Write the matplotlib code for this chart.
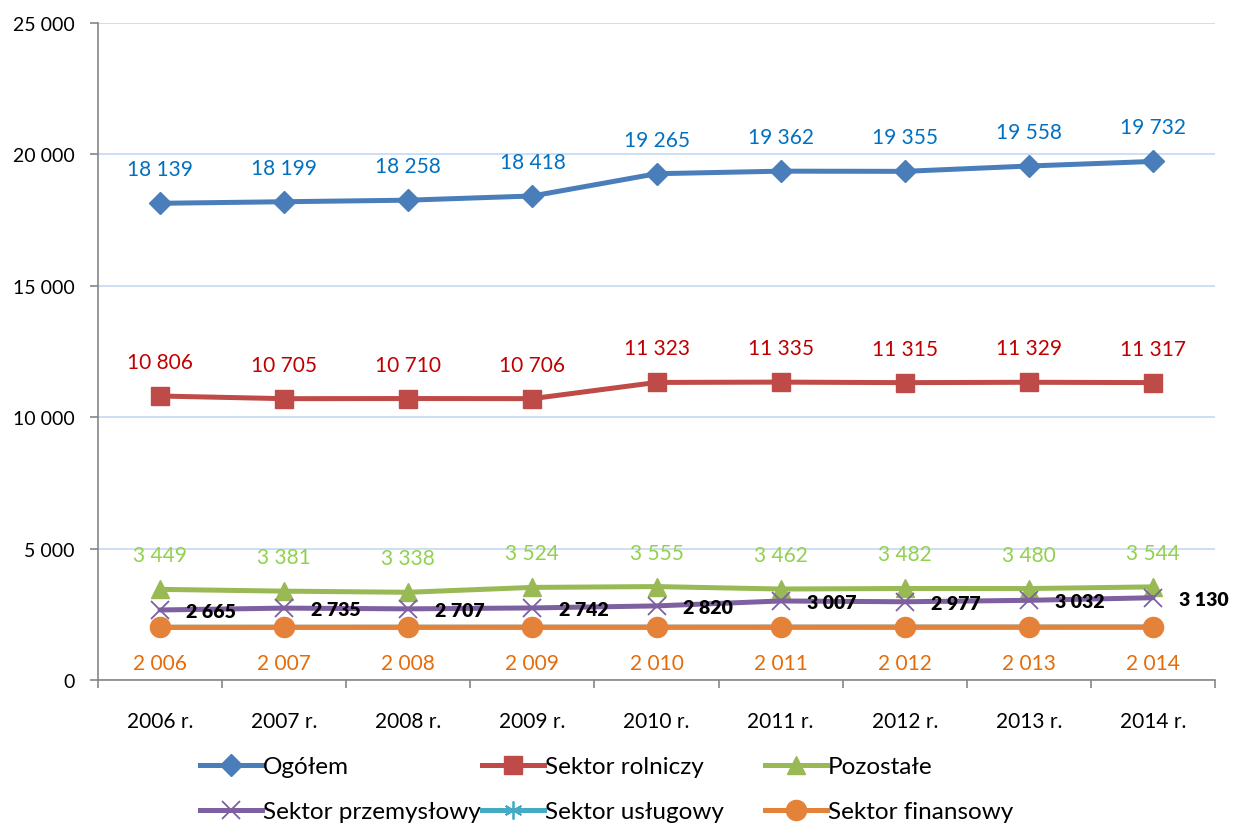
import matplotlib
matplotlib.use("Agg")
import matplotlib.pyplot as plt
from matplotlib.lines import Line2D
from matplotlib.ticker import MultipleLocator, FixedLocator

plt.rcParams['font.family'] = ['Lato', 'DejaVu Sans']

categories = ["2006 r.", "2007 r.", "2008 r.", "2009 r.", "2010 r.", "2011 r.", "2012 r.", "2013 r.", "2014 r."]
ogolem = [18139, 18199, 18258, 18418, 19265, 19362, 19355, 19558, 19732]
rolniczy = [10806, 10705, 10710, 10706, 11323, 11335, 11315, 11329, 11317]
pozostale = [3449, 3381, 3338, 3524, 3555, 3462, 3482, 3480, 3544]
przemyslowy = [2665, 2735, 2707, 2742, 2820, 3007, 2977, 3032, 3130]
uslugowy = [2006, 2007, 2008, 2009, 2010, 2011, 2012, 2013, 2014]
finansowy = [2006, 2007, 2008, 2009, 2010, 2011, 2012, 2013, 2014]


def fmt(v):
    return f"{v:,}".replace(",", " ")


fig = plt.figure(figsize=(12.34, 8.28), dpi=100)
ax = fig.add_axes([98 / 1234, 1 - 681 / 828, (1215 - 98) / 1234, (681 - 24) / 828])

x = list(range(len(categories)))
lw = 3.6
LBL = 15

series = [
    ("Ogółem", ogolem, "#4a7ebb", "D", 11, "#0070c0", "above"),
    ("Sektor rolniczy", rolniczy, "#be4b48", "s", 12.5, "#c00000", "above"),
    ("Pozostałe", pozostale, "#98b954", "^", 13, "#92d050", "above"),
    ("Sektor przemysłowy", przemyslowy, "#7d60a0", "x", 13, "black", "right"),
    ("Sektor usługowy", uslugowy, "#46aac5", (6, 2, 0), 13, None, None),
    ("Sektor finansowy", finansowy, "#e5823a", "o", 14.5, "#e46c0a", "below"),
]

handles = {}
for name, vals, col, mk, ms, lcol, pos in series:
    thin = mk == "x" or mk == (6, 2, 0)
    h, = ax.plot(x, vals, color=col, lw=lw, marker=mk, markersize=ms,
                 markeredgewidth=1.3 if thin else 1.0, markeredgecolor=col,
                 markerfacecolor=col, solid_capstyle='round', zorder=3)
    handles[name] = h
    if lcol is None:
        continue
    for xi, v in zip(x, vals):
        if pos == "above":
            ax.annotate(fmt(v), (xi, v), xytext=(0, 24.5), textcoords="offset points",
                        ha="center", va="center", color=lcol, fontsize=LBL)
        elif pos == "below":
            ax.annotate(fmt(v), (xi, v), xytext=(0, -26), textcoords="offset points",
                        ha="center", va="center", color=lcol, fontsize=LBL)
        else:
            ax.annotate(fmt(v), (xi, v), xytext=(19, -1), textcoords="offset points",
                        ha="left", va="center", color=lcol, fontsize=14,
                        fontweight="heavy", zorder=5)

ax.set_xlim(-0.5, len(categories) - 0.5)
ax.set_ylim(0, 25000)
ax.yaxis.set_major_locator(MultipleLocator(5000))
ax.yaxis.set_major_formatter(plt.FuncFormatter(lambda v, p: fmt(int(v))))
ax.set_xticks(x)
ax.set_xticklabels(categories)
ax.xaxis.set_minor_locator(FixedLocator([i - 0.5 for i in range(len(categories) + 1)]))
ax.tick_params(axis='x', which='major', length=0, pad=22, labelsize=15)
ax.tick_params(axis='x', which='minor', length=6, color='#868686', width=1.2)
ax.tick_params(axis='y', which='major', length=6, color='#868686', width=1.2,
               pad=11, labelsize=14)
ax.grid(axis='y', color='#c6d9f1', lw=1.2, zorder=0)
ax.set_axisbelow(True)
for s in ['top', 'right']:
    ax.spines[s].set_visible(False)
for s in ['left', 'bottom']:
    ax.spines[s].set_color('#868686')
    ax.spines[s].set_linewidth(1.2)

cols = [["Ogółem", "Sektor przemysłowy"], ["Sektor rolniczy", "Sektor usługowy"],
        ["Pozostałe", "Sektor finansowy"]]
xs = [200 / 1234, 482 / 1234, 765 / 1234]
for cx, names in zip(xs, cols):
    hs = []
    for n in names:
        h = handles[n]
        hs.append(Line2D([], [], color=h.get_color(), lw=lw, marker=h.get_marker(),
                         markersize=h.get_markersize(), markeredgecolor=h.get_color(),
                         markerfacecolor=h.get_color(),
                         markeredgewidth=h.get_markeredgewidth()))
    fig.legend(hs, names, loc='upper left', bbox_to_anchor=(cx, 1 - 757 / 828),
               frameon=False, fontsize=17.5, handlelength=2.55, handletextpad=0.05,
               borderaxespad=0, borderpad=0, labelspacing=1.0)

fig.savefig("out.png", dpi=100)
